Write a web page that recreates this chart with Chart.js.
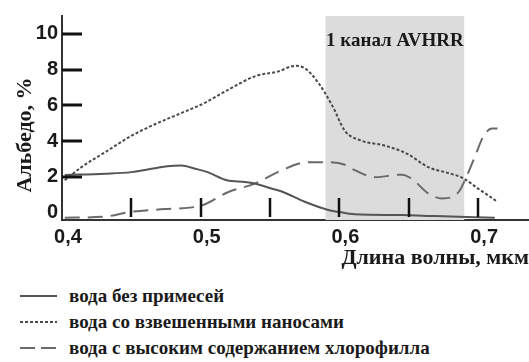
<!DOCTYPE html>
<html lang="ru">
<head>
<meta charset="utf-8">
<title>Альбедо воды</title>
<script src="https://cdn.jsdelivr.net/npm/chart.js@4.4.1/dist/chart.umd.min.js"></script>
<style>
  html, body { margin: 0; padding: 0; background: #fff; }
  #wrap { position: relative; width: 529px; height: 362px; overflow: hidden; }
  #chart { position: absolute; left: 0; top: 0; }
  #legend { position: absolute; left: 0; top: 283px; font: bold 19px "Liberation Serif", "Times New Roman", serif; color: #1a1a1a; }
  .row { display: flex; align-items: center; height: 26px; }
  .row svg { flex: none; }
  .row span { margin-left: 12px; white-space: nowrap; }
</style>
</head>
<body>
<div id="wrap">
  <canvas id="chart" width="529" height="280"></canvas>
  <div id="legend"></div>
</div>
<script>
// Wavelength (µm) / albedo (%) samples for each water type
const pureX = [0.402, 0.431, 0.45, 0.467, 0.476, 0.486, 0.496, 0.505, 0.519, 0.532, 0.539, 0.551, 0.558, 0.575, 0.592, 0.599, 0.611, 0.645, 0.669, 0.712];
const pureY = [2.1, 2.17, 2.26, 2.48, 2.59, 2.63, 2.45, 2.26, 1.8, 1.71, 1.62, 1.34, 1.19, 0.6, 0.14, 0.04, -0.1, -0.14, -0.2, -0.29];

const sedimentX = [0.402, 0.414, 0.431, 0.45, 0.467, 0.484, 0.503, 0.52, 0.539, 0.556, 0.568, 0.575, 0.585, 0.595, 0.604, 0.616, 0.633, 0.649, 0.664, 0.678, 0.689, 0.7, 0.714];
const sedimentY = [1.8, 2.54, 3.37, 4.29, 4.94, 5.5, 6.14, 6.88, 7.62, 7.9, 8.21, 8.08, 7.24, 5.96, 4.57, 4.02, 3.74, 3.28, 2.54, 2.22, 1.93, 1.34, 0.6];

const chloroX = [0.402, 0.431, 0.45, 0.474, 0.5, 0.52, 0.539, 0.558, 0.577, 0.592, 0.604, 0.609, 0.626, 0.645, 0.652, 0.664, 0.674, 0.686, 0.691, 0.698, 0.704, 0.71, 0.714];
const chloroY = [-0.29, -0.23, 0.04, 0.19, 0.38, 1.15, 1.62, 2.35, 2.81, 2.81, 2.67, 2.45, 1.98, 2.12, 1.9, 1.07, 0.79, 1.15, 1.9, 3.19, 4.29, 4.7, 4.7];

const seriesNames = ['вода без примесей', 'вода со взвешенными наносами', 'вода с высоким содержанием хлорофилла'];

const xTickValues = [0.4, 0.5, 0.6, 0.7];
const xTickMarks = [0.45, 0.5, 0.55, 0.6, 0.65, 0.7];
const yTickValues = [0, 2, 4, 6, 8, 10];
const yTickMarks = [2, 4, 6, 8, 10];
const bandRange = [0.59, 0.69];
const bandLabel = '1 канал AVHRR';
const xTitle = 'Длина волны, мкм';
const yTitle = 'Альбедо, %';

const toPoints = (xs, ys) => xs.map((x, i) => ({ x, y: ys[i] }));

const SANS = '"Liberation Sans", Arial, sans-serif';
const SERIF = '"Liberation Serif", "Times New Roman", serif';
const INK = '#1a1a1a';

// Shaded spectral band with its caption, drawn behind the curves
const bandPlugin = {
  id: 'band',
  beforeDatasetsDraw(chart) {
    const { ctx, chartArea, scales } = chart;
    const x0 = scales.x.getPixelForValue(bandRange[0]);
    const x1 = scales.x.getPixelForValue(bandRange[1]);
    ctx.save();
    ctx.fillStyle = '#dcdcdc';
    ctx.fillRect(x0, chartArea.top, x1 - x0, chartArea.bottom - chartArea.top);
    ctx.fillStyle = INK;
    ctx.font = 'bold 19px ' + SERIF;
    ctx.textAlign = 'center';
    ctx.textBaseline = 'middle';
    ctx.fillText(bandLabel, (x0 + x1) / 2, chartArea.top + 25);
    ctx.restore();
  }
};

// Tick marks that sit inside the plot, plus the rotated y title
const marksPlugin = {
  id: 'marks',
  afterDatasetsDraw(chart) {
    const { ctx, chartArea, scales } = chart;
    ctx.save();
    ctx.strokeStyle = '#111';
    ctx.lineCap = 'butt';
    ctx.lineWidth = 3;
    yTickMarks.forEach(v => {
      const y = Math.round(scales.y.getPixelForValue(v));
      ctx.beginPath();
      ctx.moveTo(chartArea.left, y);
      ctx.lineTo(chartArea.left + 20, y);
      ctx.stroke();
    });
    ctx.lineWidth = 2.5;
    xTickMarks.forEach(v => {
      const x = Math.round(scales.x.getPixelForValue(v));
      ctx.beginPath();
      ctx.moveTo(x, chartArea.bottom - 22);
      ctx.lineTo(x, chartArea.bottom - 3);
      ctx.stroke();
    });
    ctx.translate(25, (chartArea.top + chartArea.bottom) / 2 + 17);
    ctx.rotate(-Math.PI / 2);
    ctx.fillStyle = INK;
    ctx.font = 'bold 22px ' + SERIF;
    ctx.textAlign = 'center';
    ctx.textBaseline = 'middle';
    ctx.fillText(yTitle, 0, 0);
    ctx.restore();
  }
};

const chart = new Chart(document.getElementById('chart'), {
  type: 'line',
  data: {
    datasets: [
      { label: seriesNames[0], data: toPoints(pureX, pureY), borderColor: '#555', borderWidth: 2, borderDash: [] },
      { label: seriesNames[1], data: toPoints(sedimentX, sedimentY), borderColor: '#4a4a4a', borderWidth: 2, borderDash: [3, 2] },
      { label: seriesNames[2], data: toPoints(chloroX, chloroY), borderColor: '#6a6a6a', borderWidth: 2, borderDash: [15, 8] }
    ]
  },
  options: {
    responsive: false,
    animation: false,
    layout: { padding: { top: 12, left: 0, right: 0, bottom: 0 } },
    elements: {
      point: { radius: 0 },
      line: { cubicInterpolationMode: 'monotone', fill: false }
    },
    plugins: { legend: { display: false }, tooltip: { enabled: false } },
    scales: {
      x: {
        type: 'linear',
        min: 0.4,
        max: 0.7367,
        afterBuildTicks: s => { s.ticks = xTickValues.map(v => ({ value: v })); },
        afterFit: s => { s.height = 60; },
        grid: { display: false, drawTicks: false },
        border: { display: true, color: '#333', width: 2 },
        ticks: {
          autoSkip: false,
          maxRotation: 0,
          padding: 5,
          labelOffset: 6,
          color: INK,
          font: { family: SANS, size: 20, weight: 'bold' },
          callback: v => v.toFixed(1).replace('.', ',')
        },
        title: {
          display: true,
          text: xTitle,
          align: 'end',
          color: INK,
          font: { family: SERIF, size: 22, weight: 'bold' },
          padding: { top: 0, bottom: 8 }
        }
      },
      y: {
        type: 'linear',
        min: -0.42,
        max: 11,
        afterBuildTicks: s => { s.ticks = yTickValues.map(v => ({ value: v })); },
        afterFit: s => { s.width = 62; },
        grid: { display: false, drawTicks: false },
        border: { display: true, color: '#333', width: 2 },
        ticks: {
          autoSkip: false,
          padding: 4,
          color: INK,
          font: { family: SANS, size: 20, weight: 'bold' },
          callback: v => String(v)
        }
      }
    }
  },
  plugins: [bandPlugin, marksPlugin]
});

// Legend rows built from the datasets' own line styles
const legend = document.getElementById('legend');
chart.data.datasets.forEach(ds => {
  const row = document.createElement('div');
  row.className = 'row';
  const svgNS = 'http://www.w3.org/2000/svg';
  const svg = document.createElementNS(svgNS, 'svg');
  svg.setAttribute('width', '57');
  svg.setAttribute('height', '10');
  const line = document.createElementNS(svgNS, 'line');
  line.setAttribute('x1', '20');
  line.setAttribute('x2', '57');
  line.setAttribute('y1', '5');
  line.setAttribute('y2', '5');
  line.setAttribute('stroke', ds.borderColor);
  line.setAttribute('stroke-width', ds.borderWidth);
  if (ds.borderDash.length) {
    const d = ds.borderDash[0] > 5 ? [15, 6] : ds.borderDash;
    line.setAttribute('stroke-dasharray', d.join(' '));
  }
  svg.appendChild(line);
  const span = document.createElement('span');
  span.textContent = ds.label;
  row.appendChild(svg);
  row.appendChild(span);
  legend.appendChild(row);
});
</script>
</body>
</html>
